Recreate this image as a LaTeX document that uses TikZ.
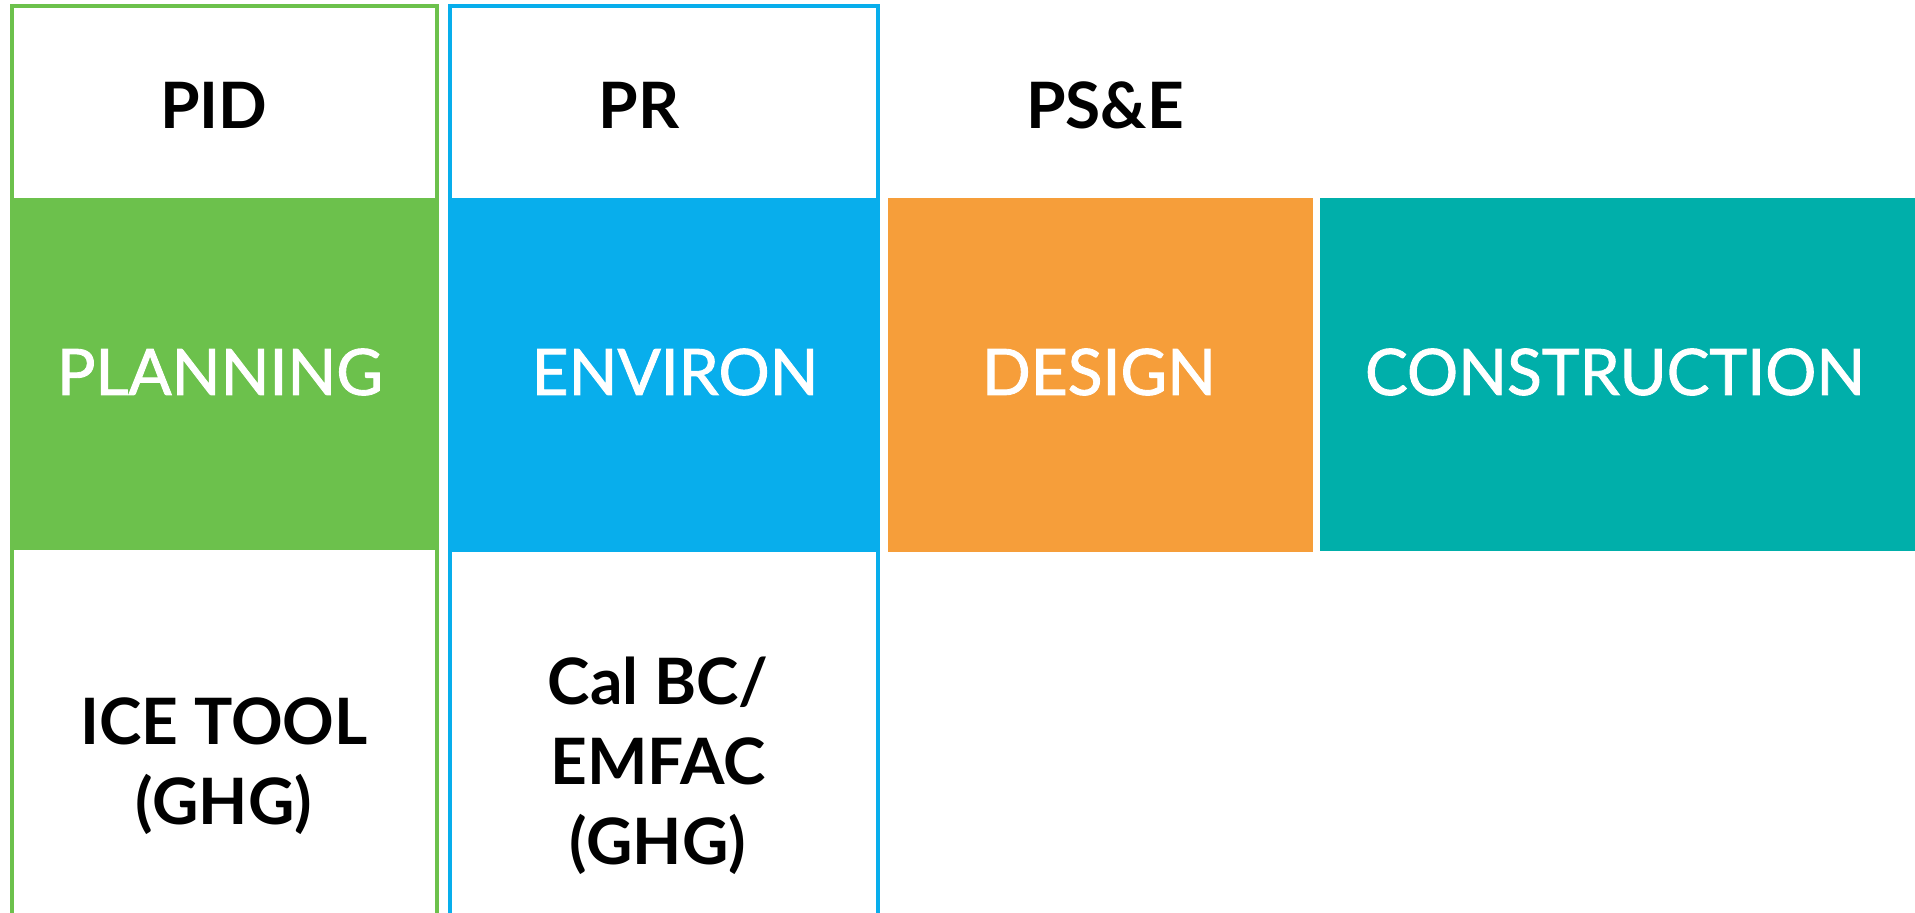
\documentclass[tikz,border=0pt]{standalone}
\usepackage{fontspec}
\setmainfont{Lato}
\newfontfamily\phasefont{Lato}[FakeBold=1.4]
\usepackage{tikz}

\definecolor{plangreen}{RGB}{108,193,76}
\definecolor{envblue}{RGB}{8,174,236}
\definecolor{desorange}{RGB}{246,158,58}
\definecolor{conteal}{RGB}{0,175,170}

\tikzset{
  phase/.style={font=\phasefont\fontsize{32}{38}\selectfont, text=white},
  doc/.style={font=\bfseries\fontsize{32}{38}\selectfont},
  tool/.style={font=\bfseries\fontsize{32}{40}\selectfont, align=center},
}

\begin{document}
\begin{tikzpicture}[x=0.5pt,y=-0.5pt,join=miter] % phases, pixel grid
        \useasboundingbox (0,0) rectangle (1915,912);
        % coloured phase bands
        \fill[plangreen](10,198) rectangle (436,550);
        \fill[envblue](450,198) rectangle (878,552);
        \fill[desorange](888,198) rectangle (1313,552);
        \fill[conteal](1320,198) rectangle (1915,551);
        % open frames round PID and PR
        \draw[plangreen,line width=2pt](12,916)--(12,6)--(437,6)--(437,916);
        \draw[envblue,line width=2pt](450,916)--(450,6)--(878,6)--(878,916);
        % document names
        \node[doc] (pid) at (214,105) {PID};
        \node[doc] (pr) at (639,105) {PR};
        \node[doc] (pse) at (1105,105) {PS\&E};
        % phase names
        \node[phase] (plan) at (220,372) {PLANNING};
        \node[phase] (env) at (675,372) {ENVIRON};
        \node[phase] (des) at (1099,372) {DESIGN};
        \node[phase] (con) at (1615,372) {CONSTRUCTION};
        % tools
        \node[tool] (ice) at (224,766) {ICE TOOL\\(GHG)};
        \node[tool] (emfac) at (658,766) {Cal BC/\\EMFAC\\(GHG)};
\end{tikzpicture}
\end{document}
